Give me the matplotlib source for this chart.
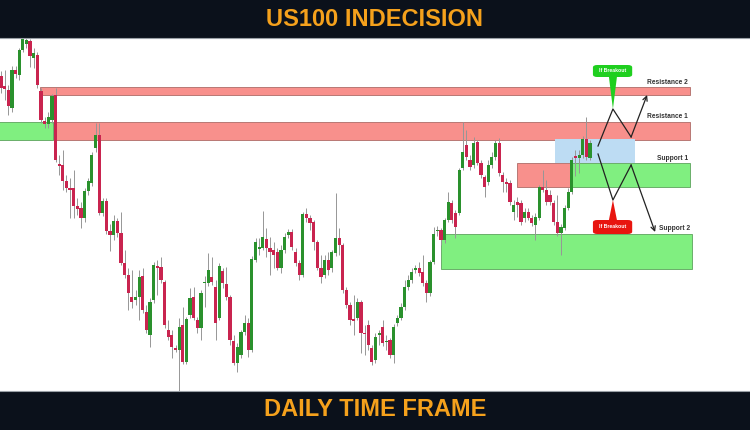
import matplotlib.pyplot as plt
import matplotlib.patches as patches

# daily candles (price units, oldest first)
opens = [324, 314, 310, 292, 330, 325, 350, 356, 359, 342,
         345, 309, 279, 276, 280, 305, 236, 235, 219, 212,
         212, 194, 192, 182, 209, 217, 252, 265, 187, 199,
         169, 165, 179, 167, 137, 125, 103, 100, 103, 124,
         88, 65, 100, 134, 133, 118, 70, 65, 52, 50,
         75, 38, 85, 103, 80, 72, 117, 117, 123, 113,
         82, 129, 116, 103, 59, 37, 45, 68, 77, 50,
         140, 151, 152, 161, 152, 150, 148, 132, 150, 165,
         168, 148, 137, 125, 186, 182, 178, 158, 132, 125,
         140, 132, 147, 162, 155, 110, 95, 81, 82, 98,
         67, 75, 52, 40, 65, 73, 58, 60, 45, 77,
         82, 93, 113, 120, 130, 132, 128, 117, 107, 138,
         169, 170, 160, 180, 197, 187, 187, 232, 255, 240,
         235, 258, 237, 223, 218, 235, 243, 257, 225, 218,
         217, 188, 198, 197, 182, 188, 182, 175, 182, 213,
         210, 205, 197, 178, 167, 172, 192, 208, 244, 242,
         245, 261, 242]
highs = [329, 330, 315, 334, 334, 352, 367, 366, 361, 352,
         348, 312, 283, 288, 306, 312, 245, 250, 225, 222,
         230, 202, 198, 212, 222, 248, 277, 277, 202, 202,
         176, 185, 182, 188, 150, 132, 130, 110, 130, 132,
         95, 102, 138, 140, 143, 120, 80, 70, 55, 82,
         93, 83, 112, 113, 83, 110, 124, 147, 143, 120,
         137, 132, 133, 105, 65, 57, 70, 85, 82, 144,
         162, 162, 189, 172, 163, 158, 152, 155, 167, 171,
         171, 152, 140, 188, 192, 185, 180, 160, 145, 145,
         148, 150, 207, 172, 157, 113, 98, 105, 102, 100,
         75, 80, 55, 67, 70, 80, 65, 62, 76, 85,
         97, 120, 125, 132, 135, 138, 145, 120, 140, 173,
         174, 172, 182, 208, 200, 190, 232, 278, 270, 245,
         263, 260, 240, 225, 240, 248, 260, 262, 228, 222,
         220, 200, 203, 200, 192, 192, 185, 187, 215, 230,
         220, 210, 200, 205, 176, 195, 212, 243, 250, 250,
         264, 283, 260]
lows = [307, 300, 285, 288, 322, 320, 348, 352, 333, 332,
        312, 277, 272, 272, 277, 238, 225, 210, 208, 182,
        182, 185, 172, 178, 205, 214, 248, 185, 184, 166,
        149, 160, 163, 135, 122, 90, 92, 95, 80, 87,
        67, 53, 97, 105, 117, 72, 60, 42, 48, 8,
        36, 36, 82, 80, 67, 60, 93, 114, 115, 60,
        80, 112, 100, 55, 35, 28, 42, 65, 43, 48,
        138, 145, 150, 143, 125, 132, 130, 127, 147, 162,
        150, 134, 120, 123, 178, 170, 150, 130, 117, 122,
        125, 128, 144, 145, 107, 92, 75, 65, 80, 47,
        45, 50, 35, 37, 55, 54, 50, 42, 37, 74,
        80, 90, 110, 117, 127, 124, 114, 98, 104, 136,
        164, 155, 157, 178, 177, 162, 185, 230, 240, 230,
        232, 235, 222, 203, 215, 232, 240, 224, 208, 208,
        195, 180, 183, 175, 178, 180, 174, 160, 180, 208,
        195, 195, 175, 164, 145, 170, 190, 206, 224, 227,
        242, 240, 240]
closes = [312, 311, 294, 330, 326, 350, 362, 360, 344, 347,
          315, 280, 276, 283, 304, 240, 234, 219, 212, 210,
          194, 191, 182, 209, 219, 245, 265, 187, 199, 169,
          165, 179, 167, 137, 125, 107, 98, 103, 123, 90,
          70, 98, 135, 132, 120, 75, 63, 53, 50, 73,
          38, 81, 102, 82, 72, 107, 118, 130, 118, 77,
          134, 117, 103, 60, 37, 53, 68, 77, 50, 141,
          158, 153, 163, 152, 148, 145, 132, 150, 163, 168,
          153, 137, 125, 186, 182, 177, 158, 132, 123, 140,
          130, 148, 162, 155, 110, 95, 80, 79, 98, 67,
          66, 55, 38, 63, 67, 57, 59, 45, 73, 82,
          93, 113, 120, 128, 132, 127, 117, 107, 138, 166,
          170, 160, 180, 198, 180, 173, 230, 248, 243, 233,
          257, 237, 225, 213, 235, 243, 257, 227, 218, 216,
          198, 195, 195, 178, 188, 182, 177, 183, 213, 210,
          198, 198, 178, 167, 173, 192, 208, 240, 242, 245,
          261, 243, 257]

# zones: (start bar, end bar, low price, high price, kind)
zone_starts = [10.7, 14.3, -1.0, 141.9, 157.0, 121.0, 152.4]
zone_ends = [189.5, 189.5, 14.3, 157.0, 189.5, 190.0, 174.4]
zone_lows = [305, 260, 260, 213, 213, 131, 237]
zone_highs = [313, 278, 278, 237, 237, 166, 261]
zone_kinds = ['res', 'res', 'sup', 'res', 'sup', 'sup', 'box']

zone_labels = ['Resistance 2', 'Resistance 1', 'Support 1', 'Support 2']
label_prices = [318, 284, 242, 172]

# scenario paths (bar, price)
up_bars = [164.2, 168.3, 173.3, 177.7]
up_prices = [254, 291, 263, 305]
down_bars = [164.2, 168.3, 173.3, 179.9]
down_prices = [246, 200, 235, 168]

RED = '#c9244f'
GREEN = '#2a912d'
fills = {'res': ('#f8908c', '#b87874'), 'sup': ('#80ef80', '#6aae6a'), 'box': ('#bddcf3', 'none')}

fig = plt.figure(figsize=(7.5, 4.3), dpi=100)
ax = fig.add_axes([0, 39 / 430, 1, 353 / 430])
ax.set_xlim(-0.275, 206.0)
ax.set_ylim(9, 362)
ax.axis('off')

# zones
for x0, x1, lo, hi, k in zip(zone_starts, zone_ends, zone_lows, zone_highs, zone_kinds):
    fc, ec = fills[k]
    ax.add_patch(patches.Rectangle((x0, lo), x1 - x0, hi - lo, facecolor=fc,
                                   edgecolor=ec, linewidth=0.7, zorder=1))

# candles
for i, (o, h, l, c) in enumerate(zip(opens, highs, lows, closes)):
    col = GREEN if c >= o else RED
    ax.vlines(i, l, h, color='#969696', linewidth=0.7, zorder=2)
    ax.add_patch(patches.Rectangle((i - 0.44, min(o, c)), 0.88, max(abs(c - o), 1.5),
                                   facecolor=col, edgecolor='none', zorder=3))

# labels of the levels
for name, p in zip(zone_labels, label_prices):
    if name == 'Support 2':
        ax.text(181.0, p, name, ha='left', va='center', fontsize=4.8, fontweight='bold',
                color='#333333', family='Liberation Sans', zorder=5)
    else:
        ax.text(188.9, p, name, ha='right', va='center', fontsize=4.8, fontweight='bold',
                color='#333333', family='Liberation Sans', zorder=5)

# breakout scenarios
ax.plot(up_bars[:-1], up_prices[:-1], color='#222222', linewidth=0.9, zorder=4)
ax.annotate('', xy=(up_bars[-1], up_prices[-1]), xytext=(up_bars[-2], up_prices[-2]),
            arrowprops=dict(arrowstyle='->', color='#222222', lw=0.9, shrinkA=0, shrinkB=0,
                            mutation_scale=8), zorder=4)
ax.plot(down_bars[:-1], down_prices[:-1], color='#222222', linewidth=0.9, zorder=4)
ax.annotate('', xy=(down_bars[-1], down_prices[-1]), xytext=(down_bars[-2], down_prices[-2]),
            arrowprops=dict(arrowstyle='->', color='#222222', lw=0.9, shrinkA=0, shrinkB=0,
                            mutation_scale=8), zorder=4)

# "If Breakout" callouts
for lo, hi, tip, col in [(323, 335, up_prices[1], '#1fcf1f'), (166, 180, down_prices[1], '#e8150f')]:
    ax.add_patch(patches.FancyBboxPatch((162.8, lo), 10.8, hi - lo,
                                        boxstyle='round,pad=0,rounding_size=1.2',
                                        facecolor=col, edgecolor='none', zorder=5,
                                        mutation_aspect=2.0))
    base = lo if tip < lo else hi
    ax.add_patch(patches.Polygon([(167.2, base), (169.4, base), (up_bars[1], tip)],
                                 closed=True, facecolor=col, edgecolor='none', zorder=5))
    ax.text(168.2, (lo + hi) / 2, 'If Breakout', ha='center', va='center', fontsize=3.7,
            fontweight='bold', color='white', family='Liberation Sans', zorder=6)

# dark title bands
for y0 in [0, 392 / 430]:
    fig.add_artist(patches.Rectangle((0, y0), 1, 38 / 430 if y0 else 39 / 430,
                                     transform=fig.transFigure, facecolor='#0b111b',
                                     edgecolor='none', zorder=10))
fig.add_artist(plt.Line2D([0, 1], [392 / 430, 392 / 430], color='#9aa0a6', linewidth=0.8,
                          transform=fig.transFigure, zorder=11))
fig.add_artist(plt.Line2D([0, 1], [39 / 430, 39 / 430], color='#9aa0a6', linewidth=0.8,
                          transform=fig.transFigure, zorder=11))

title_font = dict(family=['Liberation Sans Narrow', 'Liberation Sans'], fontweight='bold',
                  fontstretch='condensed', color='#f5a11c', fontsize=17, ha='center', va='center')
fig.text(0.5, 1 - 20 / 430, 'US100 INDECISION', zorder=12, **title_font)
fig.text(0.5, 20 / 430, 'DAILY TIME FRAME', zorder=12, **title_font)

fig.savefig('out.png', dpi=100)
